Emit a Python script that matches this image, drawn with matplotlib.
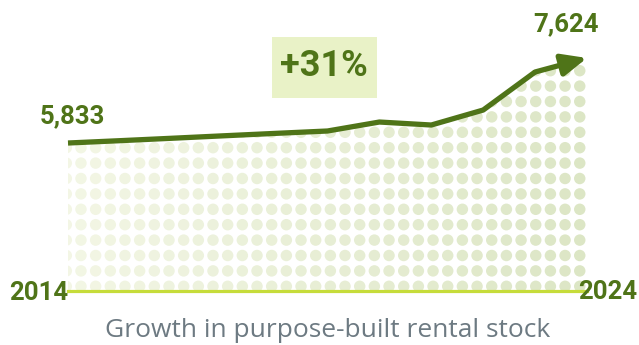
import numpy as np
import matplotlib
matplotlib.use("Agg")
import matplotlib.pyplot as plt
from matplotlib.patches import Polygon, Rectangle
from matplotlib.colors import to_rgb

# rental stock by year
years = [2014, 2015, 2016, 2017, 2018, 2019, 2020, 2021, 2022, 2023, 2024]
stock = [5833, 5882, 5933, 5985, 6036, 6086, 6275, 6212, 6528, 7329, 7624]
start_label = "5,833"
end_label = "7,624"
growth_label = "+31%"
caption = "Growth in purpose-built rental stock"

dark = "#4f7418"
base_col = "#c6dc3a"
box_col = "#e9f2c7"
dot_left = "#f3f6e5"
dot_right = "#dce6c5"
grey = "#6d7a82"

W, H = 639, 345
fig = plt.figure(figsize=(W / 100, H / 100), dpi=100)

# background layer for the dot pattern, pixel coordinates
ax_dots = fig.add_axes([0, 0, 1, 1], zorder=0)
ax_dots.set_xlim(0, W)
ax_dots.set_ylim(H, 0)
ax_dots.axis("off")

# main chart axes: 2014 at x=68px, 2024 at x=587px, baseline at y=291px
ymin = 2715
ax = fig.add_axes([68 / W, (H - 291) / H, (587 - 68) / W, (291 - 58) / H], zorder=1)
ax.set_xlim(years[0], years[-1])
ax.set_ylim(ymin, stock[-1])
ax.patch.set_visible(False)
ax.axis("off")

# area under the line used to clip the dots
verts = list(zip(years, stock)) + [(years[-1], ymin), (years[0], ymin)]
area = Polygon(verts, closed=True, facecolor="none", edgecolor="none")
ax.add_patch(area)

cols = 66.3 + 14.67 * np.arange(36)
rows = 70.7 + 15.4 * np.arange(15)
gx, gy = np.meshgrid(cols, rows)
t = (gx.ravel() - cols[0]) / (cols[-1] - cols[0])
c0, c1 = np.array(to_rgb(dot_left)), np.array(to_rgb(dot_right))
colors = c0 + (c1 - c0) * t[:, None]
dots = ax_dots.scatter(gx.ravel(), gy.ravel(), s=68, c=colors, linewidths=0)
dots.set_clip_path(area)

# baseline
ax.axhline(ymin, color=base_col, lw=2.3, clip_on=False, zorder=2)

# line with arrow on the last segment
ax.plot(years[:-1], stock[:-1], color=dark, lw=3.8, solid_joinstyle="round",
        solid_capstyle="butt", clip_on=False, zorder=3)
ax.annotate("", xy=(years[-1], stock[-1]), xytext=(years[-2], stock[-2]),
            arrowprops=dict(arrowstyle="-|>,head_length=0.75,head_width=0.33",
                            color=dark, lw=3.8, mutation_scale=20,
                            shrinkA=0, shrinkB=0), annotation_clip=False, zorder=3)

lab = dict(color=dark, fontsize=18.5, fontweight="bold", family="Roboto",
           annotation_clip=False)
ax.annotate(start_label, xy=(years[0], stock[0]), xytext=(3, 14.5),
            textcoords="offset points", ha="center", va="baseline", **lab)
ax.annotate(end_label, xy=(years[-1], stock[-1]), xytext=(-15, 19.5),
            textcoords="offset points", ha="center", va="baseline", **lab)
ax.annotate(str(years[0]), xy=(years[0], ymin), xytext=(0, -6.5),
            textcoords="offset points", ha="right", va="baseline", **lab)
ax.annotate(str(years[-1]), xy=(years[-1], ymin), xytext=(-6.5, -5.8),
            textcoords="offset points", ha="left", va="baseline", **lab)

# growth badge
fig.patches.append(Rectangle((272 / W, (H - 98) / H), 105 / W, 61 / H,
                             transform=fig.transFigure, facecolor=box_col,
                             edgecolor="none", zorder=2))
fig.text(324 / W, (H - 66) / H, growth_label, ha="center", va="center",
         color=dark, fontsize=26, fontweight="bold", family="Roboto", zorder=3)

fig.text(328 / W, (H - 337) / H, caption, ha="center", va="baseline",
         color=grey, fontsize=19, family="Open Sans")

fig.savefig("out.png", dpi=100)
